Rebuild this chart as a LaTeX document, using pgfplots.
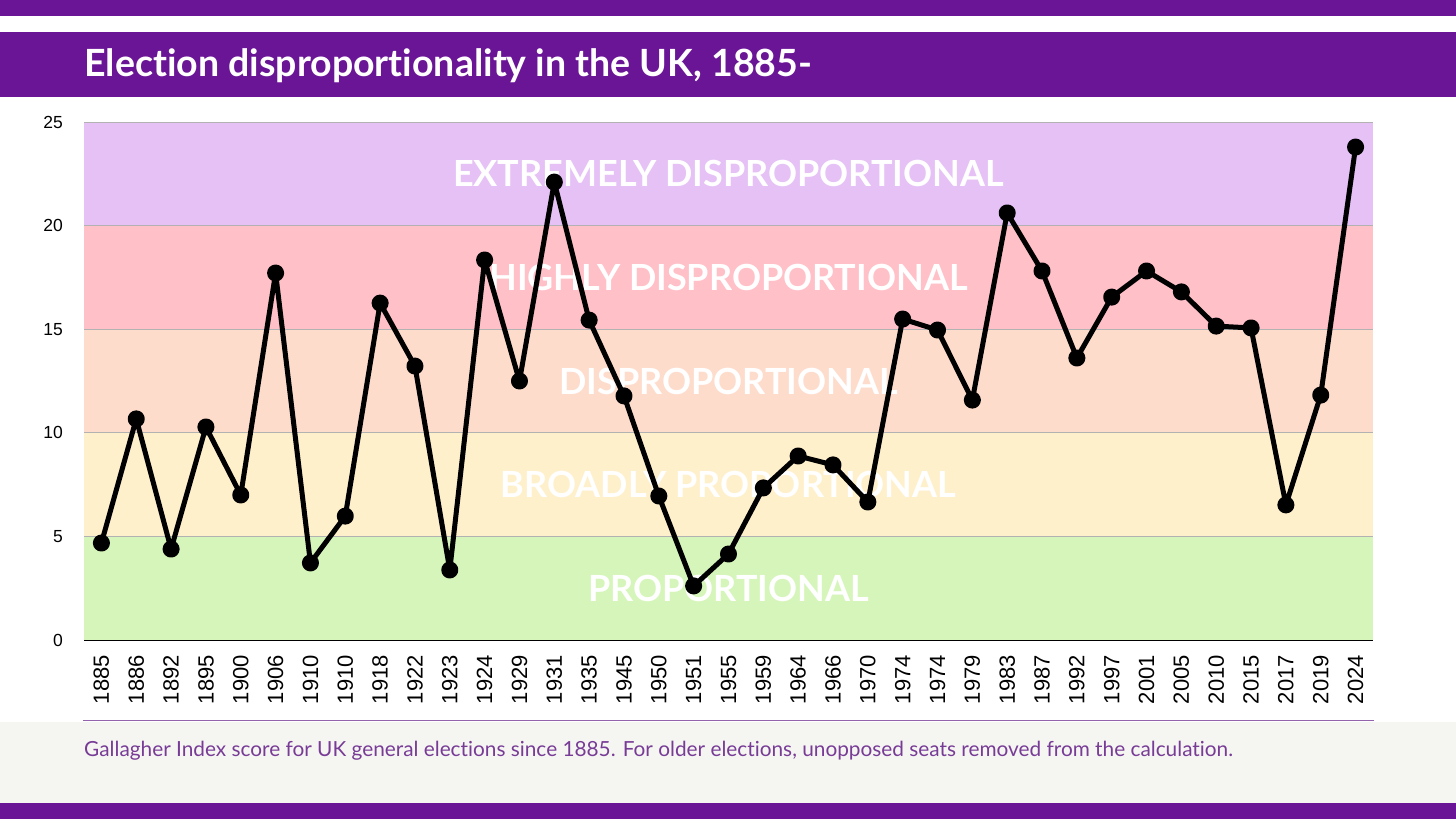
\documentclass[border=0pt]{standalone}
\usepackage{pgfplots}
\pgfplotsset{compat=1.18}
\usepackage{fontspec}
\setmainfont{Lato}[Ligatures=NoCommon]
\newfontfamily\arialf{Liberation Sans}
\definecolor{ukpurple}{RGB}{106,21,150}
\definecolor{bandE}{RGB}{229,193,245}
\definecolor{bandH}{RGB}{255,192,200}
\definecolor{bandD}{RGB}{254,220,204}
\definecolor{bandB}{RGB}{255,240,204}
\definecolor{bandP}{RGB}{214,245,186}
\definecolor{footgray}{RGB}{245,246,242}
\definecolor{captpurple}{RGB}{120,60,150}
\pgfplotstableread{
x y
0 4.68
1 10.67
2 4.39
3 10.28
4 7.00
5 17.71
6 3.72
7 5.98
8 16.26
9 13.22
10 3.38
11 18.34
12 12.50
13 22.10
14 15.44
15 11.78
16 6.95
17 2.61
18 4.15
19 7.34
20 8.88
21 8.45
22 6.66
23 15.49
24 14.96
25 11.58
26 20.61
27 17.81
28 13.61
29 16.55
30 17.81
31 16.80
32 15.15
33 15.06
34 6.52
35 11.82
36 23.79
}\gallagher
\begin{document}
\begin{tikzpicture}[x=1pt,y=1pt]
\fill[white] (0,0) rectangle (1456,819);
\fill[ukpurple] (0,803) rectangle (1456,819);
\fill[ukpurple] (0,722) rectangle (1456,787);
\fill[footgray] (0,16) rectangle (1456,97);
\fill[ukpurple] (0,0) rectangle (1456,16);
\draw[captpurple!80, line width=1pt] (83,98) -- (1374,98);
\node[anchor=base west, text=white, font=\fontsize{37.5}{42}\selectfont\bfseries, inner sep=0pt] at (84,742) {Election disproportionality in the UK, 1885-};
\node[anchor=base west, text=captpurple, font=\fontsize{20.8}{24}\selectfont, inner sep=0pt] at (84,62) {Gallagher Index score for UK general elections since 1885. For older elections, unopposed seats removed from the calculation.};
\begin{axis}[
  at={(84pt,179pt)}, anchor=south west,
  scale only axis, width=1289pt, height=518pt,
  xmin=-0.5, xmax=36.5, ymin=0, ymax=25,
  axis lines*=left,
  y axis line style={draw=none},
  x axis line style={black, line width=1.2pt},
  major tick length=0pt,
  /pgf/number format/assume math mode=true,
  xtick={0,...,36},
  xticklabels={1885,1886,1892,1895,1900,1906,1910,1910,1918,1922,1923,1924,1929,1931,1935,1945,1950,1951,1955,1959,1964,1966,1970,1974,1974,1979,1983,1987,1992,1997,2001,2005,2010,2015,2017,2019,2024},
  ytick={0,5,10,15,20,25},
  xticklabel style={rotate=90, anchor=east, inner sep=0pt, font=\arialf\fontsize{22}{24}\selectfont},
  yticklabel style={anchor=east, inner sep=0pt, font=\arialf\fontsize{17.5}{20}\selectfont},
  xticklabel shift=15pt,
  yticklabel shift=21pt,
  clip=false,
]
\addplot[fill=bandP, draw=none] coordinates {(-0.5,0) (36.5,0) (36.5,5) (-0.5,5)} -- cycle;
\addplot[fill=bandB, draw=none] coordinates {(-0.5,5) (36.5,5) (36.5,10) (-0.5,10)} -- cycle;
\addplot[fill=bandD, draw=none] coordinates {(-0.5,10) (36.5,10) (36.5,15) (-0.5,15)} -- cycle;
\addplot[fill=bandH, draw=none] coordinates {(-0.5,15) (36.5,15) (36.5,20) (-0.5,20)} -- cycle;
\addplot[fill=bandE, draw=none] coordinates {(-0.5,20) (36.5,20) (36.5,25) (-0.5,25)} -- cycle;
\addplot[gray!60, line width=0.8pt] coordinates {(-0.5,5) (36.5,5)};
\addplot[gray!60, line width=0.8pt] coordinates {(-0.5,10) (36.5,10)};
\addplot[gray!60, line width=0.8pt] coordinates {(-0.5,15) (36.5,15)};
\addplot[gray!60, line width=0.8pt] coordinates {(-0.5,20) (36.5,20)};
\addplot[gray!60, line width=0.8pt] coordinates {(-0.5,25) (36.5,25)};
\node[text=white, font=\fontsize{36}{40}\selectfont\bfseries] at (axis cs:18,22.5) {EXTREMELY DISPROPORTIONAL};
\node[text=white, font=\fontsize{36}{40}\selectfont\bfseries] at (axis cs:18,17.5) {HIGHLY DISPROPORTIONAL};
\node[text=white, font=\fontsize{36}{40}\selectfont\bfseries] at (axis cs:18,12.5) {DISPROPORTIONAL};
\node[text=white, font=\fontsize{36}{40}\selectfont\bfseries] at (axis cs:18,7.5) {BROADLY PROPORTIONAL};
\node[text=white, font=\fontsize{36}{40}\selectfont\bfseries] at (axis cs:18,2.5) {PROPORTIONAL};
\addplot[black, line width=5pt, line join=round, mark=*, mark size=6pt, mark options={solid}] table[x=x,y=y] {\gallagher};
\end{axis}
\end{tikzpicture}
\end{document}
